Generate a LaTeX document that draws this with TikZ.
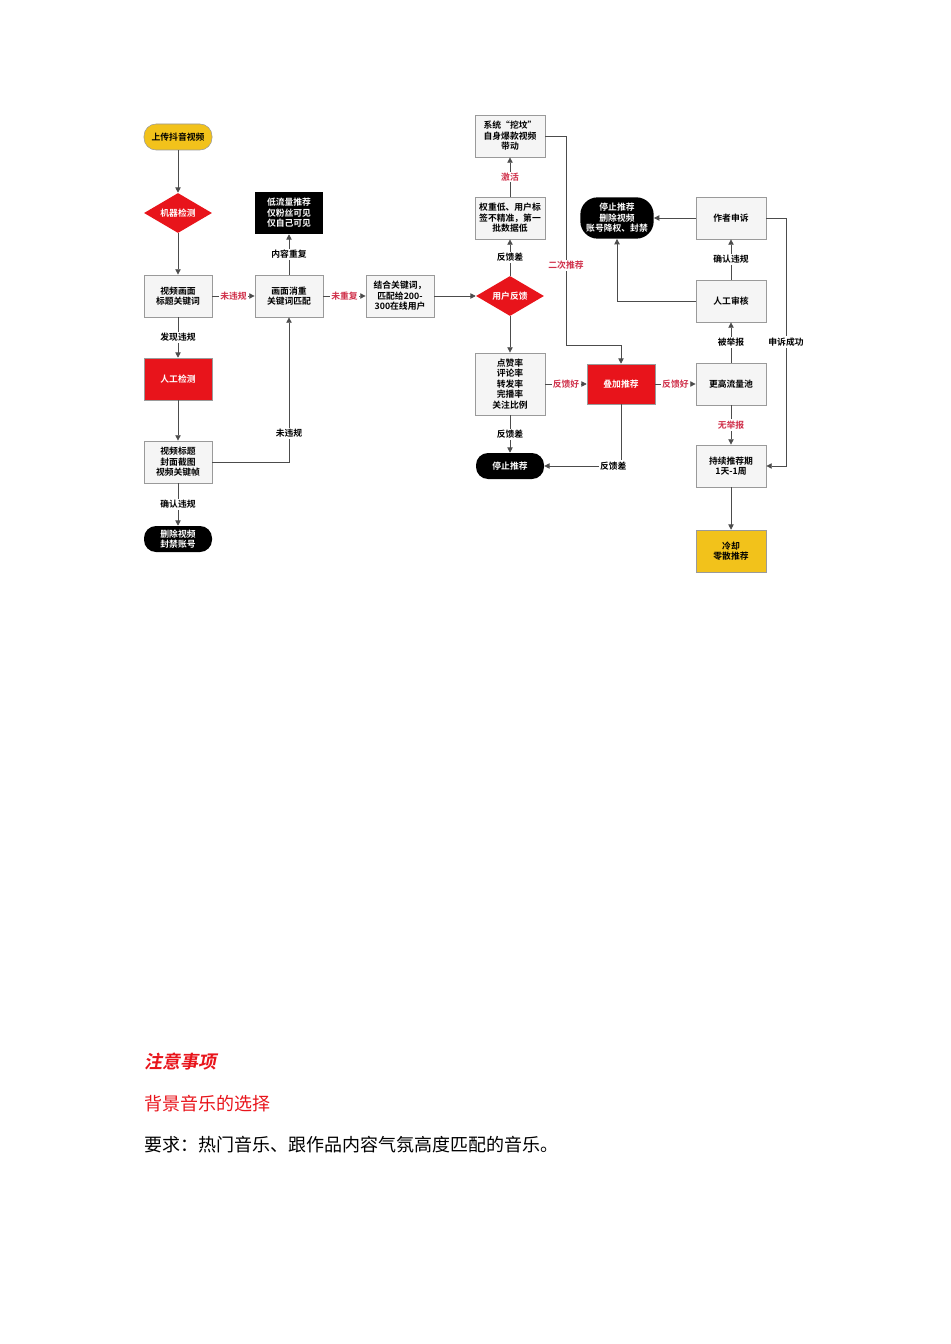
\documentclass[tikz,border=0pt]{standalone}
\usepackage{fontspec}
\setmainfont{Noto Sans CJK SC}
\newfontfamily\cjkb{Noto Sans CJK SC Bold}
\usetikzlibrary{shapes.geometric,arrows.meta}
\definecolor{bxfill}{HTML}{F5F5F5}
\definecolor{bxline}{HTML}{9A9A9A}
\definecolor{myred}{HTML}{E8141B}
\definecolor{lblred}{HTML}{D0304A}
\definecolor{myyel}{HTML}{F2C21B}
\tikzset{
  base/.style={font=\cjkb\fontsize{6.6}{7.8}\selectfont,align=center,inner sep=0.5pt},
  gbox/.style={base,draw=bxline,fill=bxfill,minimum width=51pt,minimum height=31.5pt,line width=0.6pt},
  rbox/.style={base,draw=bxline,fill=myred,text=white,minimum width=51pt,minimum height=31.5pt},
  ybox/.style={base,draw=bxline,fill=myyel,minimum width=52.5pt,minimum height=31.5pt},
  kbox/.style={base,fill=black,text=white,minimum width=51pt,minimum height=31.5pt},
  pill/.style={base,rounded corners=9pt,minimum width=51pt,minimum height=19.5pt},
  dia/.style={base,diamond,fill=myred,text=white,aspect=1.7,minimum width=51pt,minimum height=30pt,inner sep=0pt},
  lbl/.style={base,fill=white,inner sep=1pt},
  rlbl/.style={lbl,text=lblred},
  ln/.style={draw=black!70,line width=0.6pt},
  ar/.style={ln,-{Triangle[length=4pt,width=4pt]}}
}
\begin{document}
\begin{tikzpicture}[x=0.75pt,y=-0.75pt]
\useasboundingbox (0,0) rectangle (950,1344);
% left column
\node[pill,draw=bxline,fill=myyel] (up) at (178,137) {上传抖音视频};
\node[dia] (mc) at (178,213) {机器检测};
\node[gbox] (v1) at (178,296) {视频画面\\标题关键词};
\node[rbox] (hc) at (178,379) {人工检测};
\node[gbox] (v2) at (178,462) {视频标题\\封面截图\\视频关键帧};
\node[pill,fill=black,text=white] (del) at (178,539) {删除视频\\封禁账号};
% second column
\node[kbox] (low) at (289,213) {低流量推荐\\仅粉丝可见\\仅自己可见};
\node[gbox] (dup) at (289,296) {画面消重\\关键词匹配};
\node[gbox] (kw) at (400,296) {结合关键词，\\匹配给200-\\300在线用户};
% third column
\node[dia] (fb) at (510,296) {用户反馈};
\node[gbox,minimum width=52.5pt] (wl) at (510,218) {权重低、用户标\\签不精准，第一\\批数据低};
\node[gbox,minimum width=52.5pt] (sys) at (510,136) {系统“挖坟”\\自身爆款视频\\带动};
\node[gbox,minimum width=52.5pt,minimum height=46.5pt] (rate) at (510,384) {点赞率\\评论率\\转发率\\完播率\\关注比例};
\node[pill,fill=black,text=white] (stop) at (510,466) {停止推荐};
\node[rbox,minimum height=30pt] (add) at (621,384) {叠加推荐};
% right column
\node[gbox,minimum width=52.5pt] (pool) at (731,384) {更高流量池};
\node[gbox,minimum width=52.5pt] (rev) at (731,301) {人工审核};
\node[gbox,minimum width=52.5pt] (app) at (731,218) {作者申诉};
\node[base,fill=black,text=white,rounded corners=13pt,minimum width=55pt,minimum height=31pt] (ban) at (617,218) {停止推荐\\删除视频\\账号降权、封禁};
\node[gbox,minimum width=52.5pt] (keep) at (731,466) {持续推荐期\\1天-1周};
\node[ybox] (cool) at (731,551) {冷却\\零散推荐};
% connectors
\draw[ar] (up) -- (mc);
\draw[ar] (mc) -- (v1);
\draw[ar] (v1) -- node[lbl]{发现违规} (hc);
\draw[ar] (hc) -- (v2);
\draw[ar] (v2) -- node[lbl]{确认违规} (del);
\draw[ar] (v1) -- node[rlbl]{未违规} (dup);
\draw[ar] (dup) -- node[lbl]{内容重复} (low);
\draw[ar] (v2.east) -- (289,462) -- node[lbl,pos=0.2]{未违规} (dup.south);
\draw[ar] (dup) -- node[rlbl]{未重复} (kw);
\draw[ar] (kw) -- (fb);
\draw[ar] (fb) -- node[lbl]{反馈差} (wl);
\draw[ar] (wl) -- node[rlbl]{激活} (sys);
\draw[ar] (fb) -- (rate);
\draw[ar] (rate) -- node[lbl]{反馈差} (stop);
\draw[ar] (rate) -- node[rlbl]{反馈好} (add);
\draw[ar] (sys.east) -- (566,136) -- node[rlbl,pos=0.62]{二次推荐} (566,345) -- (621,345) -- (add.north);
\draw[ar] (add.south) -- (621,466) -- node[lbl,pos=0.1]{反馈差} (stop.east);
\draw[ar] (add) -- node[rlbl]{反馈好} (pool);
\draw[ar] (pool) -- node[lbl]{被举报} (rev);
\draw[ar] (rev) -- node[lbl]{确认违规} (app);
\draw[ar] (app) -- (ban);
\draw[ar] (rev.west) -- (617,301) -- (ban.south);
\draw[ar] (pool) -- node[rlbl]{无举报} (keep);
\draw[ar] (app.east) -- (786,218) -- node[lbl,pos=0.5]{申诉成功} (786,466) -- (keep.east);
\draw[ar] (keep) -- (cool);
% bottom text
\node[anchor=west,inner sep=0pt,text=myred,font=\cjkb\fontsize{13.5}{16}\selectfont] (t1) at (144,1062) {\addfontfeatures{FakeSlant=0.2}注意事项};
\node[anchor=west,inner sep=0pt,text=myred,font=\fontsize{13.5}{16}\selectfont] (t2) at (144,1104) {背景音乐的选择};
\node[anchor=west,inner sep=0pt,font=\fontsize{13.5}{16}\selectfont] (t3) at (144,1145) {要求：热门音乐、跟作品内容气氛高度匹配的音乐。};
\end{tikzpicture}
\end{document}
